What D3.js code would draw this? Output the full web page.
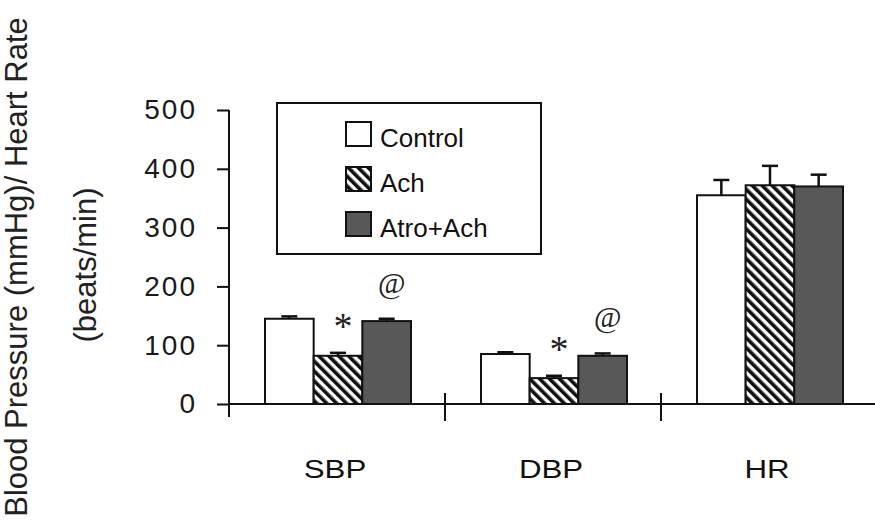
<!DOCTYPE html>
<html>
<head>
<meta charset="utf-8">
<script src="https://cdn.jsdelivr.net/npm/d3@7"></script>
<style>
  body { margin: 0; background: #fff; }
  svg { display: block; font-family: Arial, 'Liberation Sans', sans-serif; }
</style>
</head>
<body>
<div class="chart"></div>
<script>
const groups = ['SBP', 'DBP', 'HR']
const series = ['Control', 'Ach', 'Atro+Ach']
const controlValues = [145, 85, 355]
const achValues = [82, 44, 372]
const atroAchValues = [141, 82, 370]
const controlErrors = [4, 3, 26]
const achErrors = [5, 4, 33]
const atroAchErrors = [4, 4, 20]
const yTicks = [0, 100, 200, 300, 400, 500]
// significance marks
const markGroups = ['SBP', 'DBP', 'SBP', 'DBP']
const markSeries = ['Ach', 'Ach', 'Atro+Ach', 'Atro+Ach']
const markLabels = ['*', '*', '@', '@']

const width = 875
const height = 529
const values = [controlValues, achValues, atroAchValues]
const errors = [controlErrors, achErrors, atroAchErrors]

const svg = d3.select('.chart').append('svg')
  .attr('width', width)
  .attr('height', height)

const defs = svg.append('defs')
const hatch = defs.append('pattern')
  .attr('id', 'hatch')
  .attr('patternUnits', 'userSpaceOnUse')
  .attr('width', 7)
  .attr('height', 7)
  .attr('patternTransform', 'rotate(-45)')
hatch.append('rect').attr('width', 7).attr('height', 7).attr('fill', '#fff')
hatch.append('rect').attr('width', 3.6).attr('height', 7).attr('fill', '#111')

const fills = { 'Control': '#fff', 'Ach': 'url(#hatch)', 'Atro+Ach': '#585858' }

const x0 = d3.scaleBand().domain(groups).range([229, 877])
const x1 = d3.scaleBand().domain(series).range([36, 182])
const y = d3.scaleLinear().domain([0, 500]).range([404, 110])

// y axis
const yAxis = svg.append('g')
  .attr('transform', 'translate(229,0)')
  .call(d3.axisLeft(y).tickValues(yTicks).tickSize(12).tickPadding(20))
yAxis.select('.domain').remove()
yAxis.selectAll('line').attr('stroke', '#111').attr('stroke-width', 2)
yAxis.selectAll('text')
  .attr('font-size', 28)
  .attr('letter-spacing', 2)
  .attr('font-family', 'Arial, Liberation Sans, sans-serif')
  .attr('fill', '#1a1a1a')
svg.append('line')
  .attr('x1', 229).attr('x2', 229)
  .attr('y1', y(500)).attr('y2', y(0) + 13)
  .attr('stroke', '#111').attr('stroke-width', 2)
svg.append('line')
  .attr('x1', 229).attr('x2', 237)
  .attr('y1', y(0)).attr('y2', y(0))
  .attr('stroke', '#111').attr('stroke-width', 2)

// x axis
svg.append('line')
  .attr('x1', 229).attr('x2', width)
  .attr('y1', y(0)).attr('y2', y(0))
  .attr('stroke', '#111').attr('stroke-width', 2)
svg.selectAll('.sep')
  .data(groups.slice(1))
  .join('line')
  .attr('class', 'sep')
  .attr('x1', d => x0(d)).attr('x2', d => x0(d))
  .attr('y1', y(0) - 11).attr('y2', y(0) + 17)
  .attr('stroke', '#111').attr('stroke-width', 2)

svg.selectAll('.cat')
  .data(groups)
  .join('text')
  .attr('class', 'cat')
  .attr('transform', d => `translate(${x0(d) + x0.bandwidth() / 2 - 2},478) scale(1.25,1)`)
  .attr('text-anchor', 'middle')
  .attr('font-size', 25)
  .attr('fill', '#111')
  .text(d => d)

// bars
const barData = []
groups.forEach((g, gi) => {
  series.forEach((s, si) => {
    barData.push({ group: g, series: s, value: values[si][gi], err: errors[si][gi] })
  })
})
const barX = d => x0(d.group) + x1(d.series)

svg.append('g').selectAll('rect')
  .data(barData)
  .join('rect')
  .attr('x', barX)
  .attr('y', d => y(d.value))
  .attr('width', x1.bandwidth())
  .attr('height', d => y(0) - y(d.value))
  .attr('fill', d => fills[d.series])
  .attr('stroke', '#111')
  .attr('stroke-width', 2)

const errG = svg.append('g').attr('stroke', '#111').attr('stroke-width', 2.5)
errG.selectAll('.stem')
  .data(barData)
  .join('line')
  .attr('x1', d => barX(d) + x1.bandwidth() / 2)
  .attr('x2', d => barX(d) + x1.bandwidth() / 2)
  .attr('y1', d => y(d.value))
  .attr('y2', d => y(d.value + d.err))
errG.selectAll('.cap')
  .data(barData)
  .join('line')
  .attr('x1', d => barX(d) + x1.bandwidth() / 2 - 8)
  .attr('x2', d => barX(d) + x1.bandwidth() / 2 + 8)
  .attr('y1', d => y(d.value + d.err))
  .attr('y2', d => y(d.value + d.err))

// significance marks
markLabels.forEach((label, i) => {
  const d = barData.find(b => b.group === markGroups[i] && b.series === markSeries[i])
  const cx = barX(d) + x1.bandwidth() / 2 + 5
  const top = y(d.value + d.err)
  svg.append('text')
    .attr('x', cx)
    .attr('y', label === '*' ? top - 14 : top - 26)
    .attr('text-anchor', 'middle')
    .attr('font-family', 'Liberation Serif, DejaVu Serif, serif')
    .attr('font-style', label === '@' ? 'italic' : 'normal')
    .attr('font-size', label === '*' ? 38 : 30)
    .attr('fill', '#222')
    .text(label)
})

// legend
const legend = svg.append('g')
legend.append('rect')
  .attr('x', 277).attr('y', 103)
  .attr('width', 264).attr('height', 151)
  .attr('fill', '#fff')
  .attr('stroke', '#111')
  .attr('stroke-width', 2)
const legendY = d3.scalePoint().domain(series).range([147, 237])
legend.selectAll('.sw')
  .data(series)
  .join('rect')
  .attr('x', 346)
  .attr('y', d => legendY(d) - 25)
  .attr('width', 25)
  .attr('height', 24)
  .attr('fill', d => fills[d])
  .attr('stroke', '#111')
  .attr('stroke-width', 2)
legend.selectAll('.lt')
  .data(series)
  .join('text')
  .attr('x', 380)
  .attr('y', d => legendY(d))
  .attr('font-size', 26)
  .attr('fill', '#111')
  .text(d => d)

// y label
svg.append('text')
  .attr('transform', 'translate(27,267) rotate(-90)')
  .attr('text-anchor', 'middle')
  .attr('font-size', 31)
  .attr('fill', '#222')
  .text('Blood Pressure (mmHg)/ Heart Rate')
svg.append('text')
  .attr('transform', 'translate(96,265) rotate(-90)')
  .attr('text-anchor', 'middle')
  .attr('font-size', 31)
  .attr('fill', '#222')
  .text('(beats/min)')
</script>
</body>
</html>
